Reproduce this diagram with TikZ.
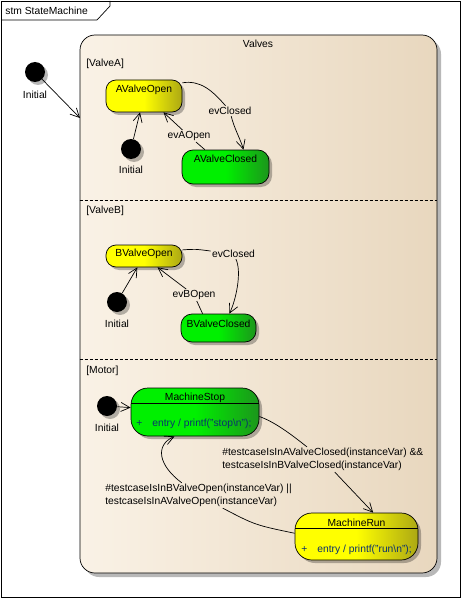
\documentclass[tikz,border=0pt]{standalone}
\usepackage{fontspec}
\setmainfont{Liberation Sans}
\usetikzlibrary{arrows.meta,shadows,calc}
\definecolor{beigeL}{RGB}{250,242,230}
\definecolor{beigeR}{RGB}{232,215,190}
\definecolor{yelL}{RGB}{255,255,0}
\definecolor{yelR}{RGB}{172,168,20}
\definecolor{grnL}{RGB}{0,240,0}
\definecolor{grnR}{RGB}{28,150,28}
\definecolor{entryc}{RGB}{10,50,110}
\begin{document}
\begin{tikzpicture}[x=1pt,y=-1pt, font=\fontsize{10.3}{13}\selectfont, line width=0.7pt,
  shd/.style={drop shadow={shadow xshift=3pt,shadow yshift=-3pt,fill=black,opacity=0.28}},
  yel/.style={left color=yelL,right color=yelR,middle color=yelL},
  grn/.style={left color=grnL,right color=grnR,middle color=grnL},
  statebox/.style={draw, rectangle, rounded corners=#1, inner sep=0pt, shd},
  initdot/.style={circle, fill=black, minimum size=20pt, inner sep=0pt, shd},
  txt/.style={inner sep=1pt},
  arr/.style={-{Straight Barb[length=9pt,width=9pt]}},
]
\useasboundingbox (0,0) rectangle (462,599);
% frame
\draw (1,1) rectangle (460,597);
\draw (1,20) -- (97,20) -- (110,6) -- (110,1);
\node[txt, anchor=west] (fname) at (4,11) {stm StateMachine};
% container
\node[draw, rectangle, rounded corners=15pt, inner sep=0pt, minimum width=357pt, minimum height=538pt,
      left color=beigeL, right color=beigeR,
      drop shadow={shadow xshift=4pt,shadow yshift=-4pt,fill=black,opacity=0.28}] (valves) at (258.5,304) {};
\node[txt] (ttl) at (258,44) {Valves};
\draw[dash pattern=on 3pt off 2pt] (valves.west |- 0,200) -- (valves.east |- 0,200);
\draw[dash pattern=on 3pt off 2pt] (valves.west |- 0,359) -- (valves.east |- 0,359);
\node[txt, anchor=west] (secA) at (85,64) {[ValveA]};
\node[txt, anchor=west] (secB) at (85,211) {[ValveB]};
\node[txt, anchor=west] (secM) at (85,371) {[Motor]};
% outer initial
\node[initdot] (i0) at (35,72) {};
\node[txt] (iL0) at (35,95) {Initial};
\coordinate (vin) at (80,118);
% Valve A
\node[statebox=10pt, yel, minimum width=76pt, minimum height=32pt] (avo) at (144,96) {\raisebox{6pt}[\height][\depth]{AValveOpen}};
\node[statebox=11pt, grn, minimum width=87pt, minimum height=34pt] (avc) at (225.5,167) {\raisebox{8pt}[\height][\depth]{AValveClosed}};
\node[initdot] (iA) at (131,149) {};
\node[txt] (iLA) at (131,170) {Initial};
\node[txt] (evcA) at (230,111) {evClosed};
\node[txt] (evaoA) at (189,136) {evAOpen};
% Valve B
\node[statebox=10pt, yel, minimum width=76pt, minimum height=22pt] (bvo) at (144,256) {\raisebox{2pt}[\height][\depth]{BValveOpen}};
\node[statebox=11pt, grn, minimum width=75pt, minimum height=28pt] (bvc) at (218.5,328) {\raisebox{4pt}[\height][\depth]{BValveClosed}};
\node[initdot] (iB) at (117,302) {};
\node[txt] (iLB) at (117,324) {Initial};
\node[txt] (evcB) at (233.5,254) {evClosed};
\node[txt] (evboB) at (194,295) {evBOpen};
% Motor
\node[statebox=17pt, grn, minimum width=128pt, minimum height=48pt] (ms) at (195,412) {};
\node[txt] (msT) at (195,398) {MachineStop};
\draw ($(ms.north west)+(0,16)$) -- ($(ms.north east)+(0,16)$);
\node[txt, anchor=west, text=entryc] (msP) at (135,424) {+};
\node[txt, anchor=west, text=entryc] (msE) at (151,424) {entry / printf("stop\textbackslash n");};
\node[statebox=17pt, yel, minimum width=123pt, minimum height=47pt] (mr) at (356.5,536.5) {};
\node[txt] (mrT) at (356.5,523) {MachineRun};
\draw ($(mr.north west)+(0,16)$) -- ($(mr.north east)+(0,16)$);
\node[txt, anchor=west, text=entryc] (mrP) at (300,550) {+};
\node[txt, anchor=west, text=entryc] (mrE) at (316,550) {entry / printf("run\textbackslash n");};
\node[initdot] (iM) at (107,406) {};
\node[txt] (iLM) at (107,428) {Initial};
\node[txt, align=left, anchor=west] (g1) at (221,459.5) {\#testcaseIsInAValveClosed(instanceVar) \&\&\\testcaseIsInBValveClosed(instanceVar)};
\node[txt, align=left, anchor=west] (g2) at (104,495.5) {\#testcaseIsInBValveOpen(instanceVar) ||\\testcaseIsInAValveOpen(instanceVar)};
% connectors
\draw[arr] (i0) -- (vin);
\draw[arr] (iA) -- (avo);
\draw (avo.19) .. controls (200,80) and (212,90) .. (evcA);
\draw[arr] (evcA) .. controls (234,128) and (240,138) .. (avc.44);
\draw (avc.140) -- (evaoA);
\draw[arr] (evaoA) -- (avo.-40);
\draw[arr] (iB) -- (bvo);
\draw (bvo.9) .. controls (195,249) .. (evcB);
\draw[arr] (evcB) .. controls (242,272) and (236,300) .. (bvc.53);
\draw (bvc.138) -- (evboB);
\draw[arr] (evboB) -- (bvo.-40);
\draw[arr] (iM) -- (ms);
\draw (ms.-4) .. controls (275,422) and (292,435) .. (g1);
\draw[arr] (g1) -- (mr.55);
\draw (mr.177) .. controls (255,525) .. (g2);
\draw[arr] (g2) .. controls (158,465) and (155,445) .. (ms.-130);
\end{tikzpicture}
\end{document}
